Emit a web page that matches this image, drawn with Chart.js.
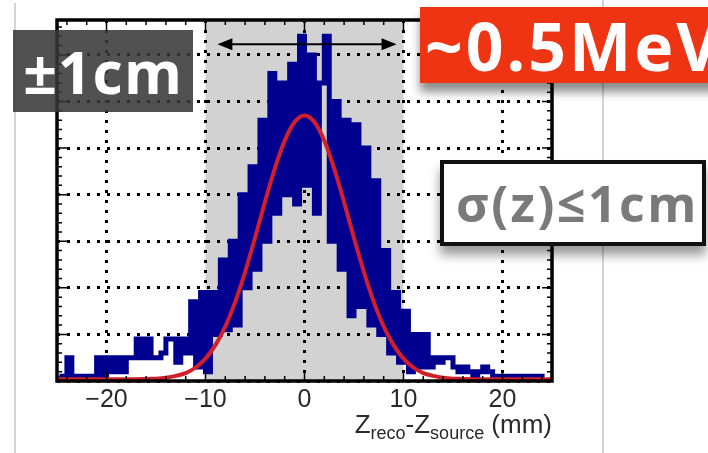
<!DOCTYPE html>
<html>
<head>
<meta charset="utf-8">
<script src="https://cdn.jsdelivr.net/npm/chart.js@4.4.0/dist/chart.umd.min.js"></script>
<style>
  html, body { margin: 0; padding: 0; background: #fff; }
  #wrap { position: relative; width: 708px; height: 453px; overflow: hidden; }
  #zplot { position: absolute; left: 0; top: 0; }
  .slideline { position: absolute; width: 2px; background: #d4d4d4; }
  .tag { position: absolute; font-family: 'Open Sans', sans-serif; font-weight: 700; white-space: nowrap; box-sizing: border-box; }
  #pm { left: 13px; top: 30px; width: 180px; height: 82px; background: rgba(55, 55, 55, 0.87); color: #fff;
        font-size: 59px; line-height: 82px; text-align: center; letter-spacing: 1px; }
  #energy { left: 420px; top: 7px; width: 310px; height: 76px; background: #ee3412; color: #fff;
            font-size: 66px; line-height: 76px; padding-left: 5px; letter-spacing: 3px;
            box-shadow: 0 9px 9px rgba(0,0,0,0.45); }
  #sigma { left: 440px; top: 160px; width: 266px; height: 86px; background: #fff; border: 4px solid #111;
           color: #7a7a7a; font-size: 50px; line-height: 78px; padding-left: 12px; letter-spacing: 2.5px;
           box-shadow: 0 9px 10px rgba(0,0,0,0.4); }
</style>
</head>
<body>
<div id="wrap">
  <div class="slideline" style="left:14px; top:3px; bottom:0;"></div>
  <div class="slideline" style="left:602px; top:0; bottom:0;"></div>
  <canvas id="zplot" width="708" height="453"></canvas>
  <div class="tag" id="pm">±1cm</div>
  <div class="tag" id="energy">~0.5MeV</div>
  <div class="tag" id="sigma">σ(z)≤1cm</div>
</div>
<script>
// histogram: 0.5 mm bins from -25 to 25 mm
const binStart = -25;
const binWidth = 0.5;
const counts = [
  1, 0, 1, 5, 1, 1, 0, 1, 1, 5,
  1, 5, 2, 5, 2, 5, 5, 9, 5, 9,
  5, 5, 6, 9, 9, 4, 9, 6, 17, 3,
  19, 2, 19, 10, 26, 11, 30, 12, 40, 20,
  46, 24, 56, 30, 66, 36, 64, 40, 68, 38,
  74, 42, 70, 36, 64, 74, 30, 60, 24, 56,
  14, 55, 16, 50, 12, 43, 10, 28, 6, 19,
  4, 15, 2, 10, 3, 10, 3, 5, 4, 5,
  5, 3, 2, 3, 2, 1, 2, 3, 2, 0,
  1, 0, 1, 0, 1, 0, 1, 0, 1, 0
];

// gaussian fit curve
const fitX = [-25, -20, -18, -17, -16, -15, -14, -13, -12, -11, -10, -9, -8, -7, -6, -5, -4, -3, -2, -1,
              0, 1, 2, 3, 4, 5, 6, 7, 8, 9, 10, 11, 12, 13, 14, 15, 16, 17, 18, 20, 25];
const fitY = [0.4, 0.4, 0.4, 0.4, 0.45, 0.5, 0.7, 1.1, 1.7, 2.9, 4.8, 7.7, 11.7, 17.0, 23.4, 30.7, 38.4, 45.6, 51.6, 55.6,
              57, 55.6, 51.6, 45.6, 38.4, 30.7, 23.4, 17.0, 11.7, 7.7, 4.8, 2.9, 1.7, 1.1, 0.7, 0.5, 0.45, 0.4, 0.4, 0.4, 0.4];

const xTicks = [-20, -10, 0, 10, 20];
const bandRange = [-10, 10];
const arrowRange = [-8.8, 9.3];
const arrowLevel = 72.3;

const histPoints = counts.map((c, i) => ({ x: binStart + i * binWidth, y: c }));
histPoints.push({ x: binStart + counts.length * binWidth, y: counts[counts.length - 1] });
const fitPoints = fitX.map((x, i) => ({ x: x, y: fitY[i] }));

const decor = {
  id: 'decor',
  beforeDraw(chart) {
    const { ctx, chartArea: a, scales: { x } } = chart;
    ctx.save();
    ctx.fillStyle = '#d2d2d2';
    const x1 = x.getPixelForValue(bandRange[0]);
    const x2 = x.getPixelForValue(bandRange[1]);
    ctx.fillRect(x1, a.top, x2 - x1, a.bottom - a.top);
    ctx.restore();
  },
  afterDatasetsDraw(chart) {
    const { ctx, chartArea: a, scales: { x, y } } = chart;
    ctx.save();
    // minor ticks, inside the frame
    ctx.strokeStyle = '#000';
    ctx.lineWidth = 1.5;
    ctx.beginPath();
    for (let v = -24; v <= 24; v += 2) {
      const px = x.getPixelForValue(v);
      const len = v % 10 === 0 ? 10 : 5;
      ctx.moveTo(px, a.bottom); ctx.lineTo(px, a.bottom - len);
      ctx.moveTo(px, a.top); ctx.lineTo(px, a.top + len);
    }
    for (let v = 2; v <= 76; v += 2) {
      const py = y.getPixelForValue(v);
      const len = v % 10 === 0 ? 10 : 5;
      ctx.moveTo(a.left, py); ctx.lineTo(a.left + len, py);
      ctx.moveTo(a.right, py); ctx.lineTo(a.right - len, py);
    }
    ctx.stroke();
    // frame
    ctx.lineWidth = 3.5;
    ctx.strokeRect(a.left, a.top, a.right - a.left, a.bottom - a.top);
    // double arrow
    const ax1 = x.getPixelForValue(arrowRange[0]);
    const ax2 = x.getPixelForValue(arrowRange[1]);
    const ay = y.getPixelForValue(arrowLevel);
    ctx.lineWidth = 2;
    ctx.beginPath();
    ctx.moveTo(ax1 + 10, ay); ctx.lineTo(ax2 - 10, ay);
    ctx.stroke();
    ctx.fillStyle = '#000';
    ctx.beginPath();
    ctx.moveTo(ax1, ay); ctx.lineTo(ax1 + 15, ay - 6); ctx.lineTo(ax1 + 15, ay + 6); ctx.closePath();
    ctx.moveTo(ax2, ay); ctx.lineTo(ax2 - 15, ay - 6); ctx.lineTo(ax2 - 15, ay + 6); ctx.closePath();
    ctx.fill();
    // x axis title with subscripts
    const parts = [
      ['Z', 26, 0], ['reco', 18, 6], ['-', 26, 0], ['Z', 26, 0], ['source', 18, 6], [' (mm)', 26, 0]
    ];
    let total = 0;
    parts.forEach(p => { ctx.font = p[1] + "px 'Liberation Sans', Arial, sans-serif"; total += ctx.measureText(p[0]).width; });
    let tx = a.right - total;
    const base = 433;
    ctx.fillStyle = '#2a2a2a';
    ctx.textBaseline = 'alphabetic';
    parts.forEach(p => {
      ctx.font = p[1] + "px 'Liberation Sans', Arial, sans-serif";
      ctx.fillText(p[0], tx, base + p[2]);
      tx += ctx.measureText(p[0]).width;
    });
    ctx.restore();
  }
};

const ctx = document.getElementById('zplot').getContext('2d');
const zchart = new Chart(ctx, {
  type: 'line',
  data: {
    datasets: [
      {
        label: 'fit',
        data: fitPoints,
        borderColor: '#d41f2a',
        borderWidth: 4,
        pointRadius: 0,
        cubicInterpolationMode: 'monotone',
        fill: false,
        order: 0
      },
      {
        label: 'Zreco-Zsource',
        data: histPoints,
        borderColor: '#000090',
        borderWidth: 5,
        pointRadius: 0,
        stepped: 'after',
        fill: false,
        order: 1
      }
    ]
  },
  options: {
    responsive: false,
    animation: false,
    devicePixelRatio: 1,
    layout: {
      padding: { left: 57, right: 156, top: 20, bottom: 0 }
    },
    plugins: {
      legend: { display: false },
      tooltip: { enabled: false }
    },
    scales: {
      x: {
        type: 'linear',
        min: -25,
        max: 25,
        afterBuildTicks: (scale) => { scale.ticks = xTicks.map(v => ({ value: v })); },
        afterFit: (scale) => { scale.height = 72; },
        ticks: {
          padding: 4,
          color: '#2a2a2a',
          font: { family: "'Liberation Sans', Arial, sans-serif", size: 25 },
          callback: (v) => (v < 0 ? '\u2212' + Math.abs(v) : String(v))
        },
        grid: { color: '#000', lineWidth: 3, drawTicks: false },
        border: { display: false, dash: [3, 7] }
      },
      y: {
        min: 0,
        max: 77.5,
        afterFit: (scale) => { scale.width = 0; },
        ticks: { display: false, stepSize: 10, includeBounds: false },
        grid: { color: '#000', lineWidth: 3, drawTicks: false },
        border: { display: false, dash: [3, 7] }
      }
    }
  },
  plugins: [decor]
});
</script>
</body>
</html>
